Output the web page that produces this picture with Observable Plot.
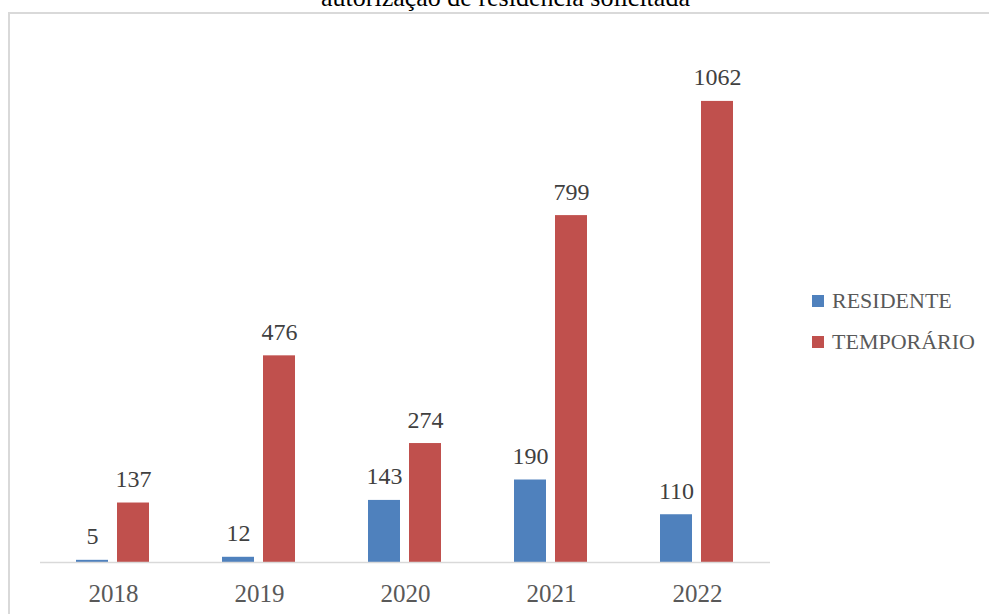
<!DOCTYPE html>
<html>
<head>
<meta charset="utf-8">
<script src="https://cdn.jsdelivr.net/npm/d3@7"></script>
<script src="https://cdn.jsdelivr.net/npm/@observablehq/plot@0.6"></script>
<style>
  html, body { margin: 0; padding: 0; background: #fff; width: 989px; height: 614px; overflow: hidden; }
  #frame { position: absolute; left: 8px; top: 12px; width: 1000px; height: 700px;
           border-top: 2px solid #d9d9d9; border-left: 2px solid #d9d9d9; box-sizing: border-box; }
  #title { position: absolute; left: 0; width: 1011px; top: -17px; text-align: center;
           font-family: "Liberation Serif", serif; font-size: 26px; color: #000; line-height: 1.15; white-space: nowrap; }
  #chart { position: absolute; left: 0; top: 0; }
  #legend { position: absolute; left: 812px; top: 280px; font-family: "Liberation Serif", serif;
            font-size: 22px; color: #595959; }
  .item { display: flex; align-items: center; height: 41px; }
  .sw { width: 12px; height: 12px; margin-right: 8px; }
</style>
</head>
<body>
<div id="frame"></div>
<div id="chart"></div>
<div id="title">autorização de residência solicitada</div>
<div id="legend"></div>
<script>
const years = ["2018", "2019", "2020", "2021", "2022"];
const residente = [5, 12, 143, 190, 110];
const temporario = [137, 476, 274, 799, 1062];
const series = ["RESIDENTE", "TEMPORÁRIO"];
const colors = ["#4f81bd", "#c0504d"];

const data = [];
years.forEach((y, i) => {
  data.push({year: y, series: series[0], value: residente[i]});
  data.push({year: y, series: series[1], value: temporario[i]});
});

const chart = Plot.plot({
  width: 989,
  height: 614,
  marginLeft: 39,
  marginRight: 218,
  marginTop: 41,
  marginBottom: 52,
  style: {background: "transparent", fontFamily: "Liberation Serif, serif", overflow: "visible"},
  fx: {domain: years, padding: 0, label: null},
  x: {domain: series, paddingInner: 0.214, paddingOuter: 0.85, axis: null},
  y: {domain: [0, 1200], axis: null},
  color: {domain: series, range: colors},
  marks: [
    Plot.barY(data, {fx: "year", x: "series", y: "value", fill: "series"}),
    Plot.ruleY([0], {stroke: "#d9d9d9", strokeWidth: 1.5}),
    Plot.text(data, {fx: "year", x: "series", y: "value", text: d => String(d.value),
      lineAnchor: "bottom", dy: -16, fontSize: 24, fill: "#404040"}),
    Plot.axisFx({anchor: "bottom", tickSize: 0, tickPadding: 22, fontSize: 25, color: "#595959", label: null})
  ]
});
document.getElementById("chart").appendChild(chart);

const legend = document.getElementById("legend");
series.forEach((s, i) => {
  const item = document.createElement("div");
  item.className = "item";
  const sw = document.createElement("div");
  sw.className = "sw";
  sw.style.background = colors[i];
  const t = document.createElement("span");
  t.textContent = s;
  item.appendChild(sw);
  item.appendChild(t);
  legend.appendChild(item);
});
</script>
</body>
</html>
